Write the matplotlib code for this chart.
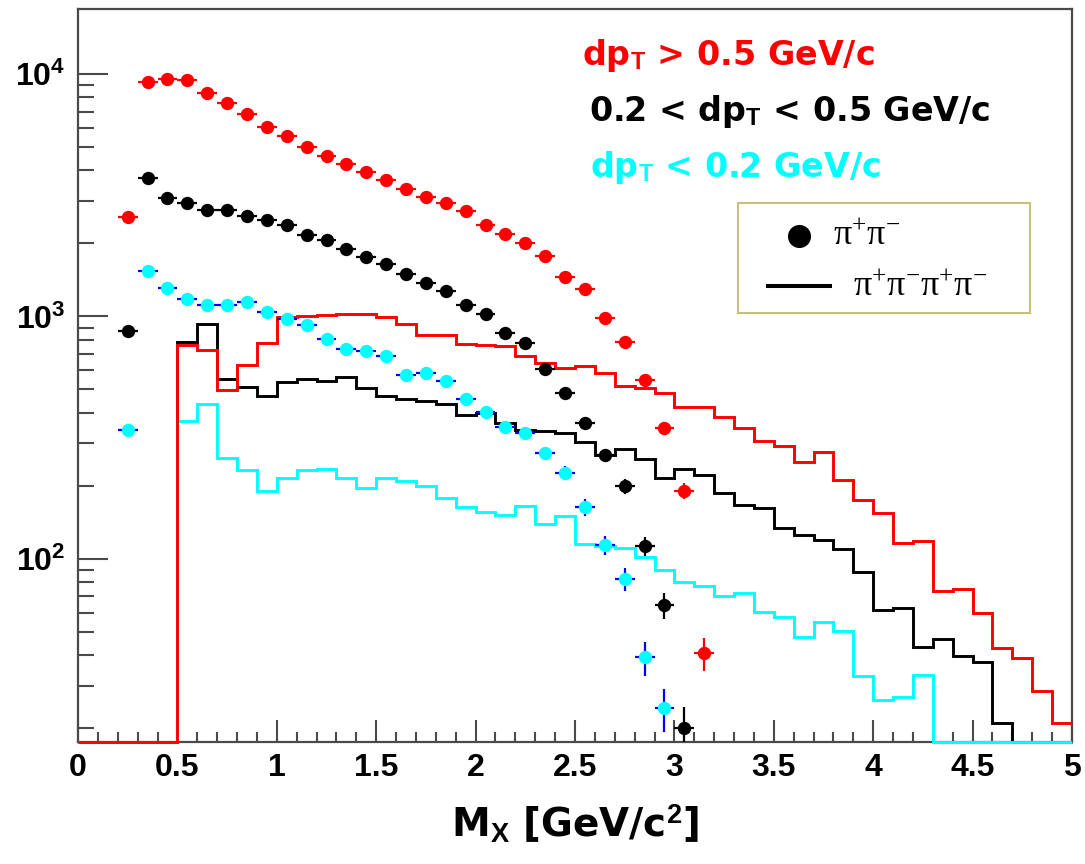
"""
M_X spectra for pi+pi- (points) and pi+pi-pi+pi- (histograms) in three dp_T bins
"""

import numpy as np
import matplotlib
matplotlib.use('Agg')
import matplotlib.pyplot as plt
from matplotlib.patches import Rectangle
from matplotlib.ticker import FixedLocator, FixedFormatter, LogLocator, NullFormatter, MultipleLocator

plt.rcParams['font.family'] = ['Liberation Sans', 'DejaVu Sans']
plt.rcParams['mathtext.fontset'] = 'custom'
plt.rcParams['mathtext.rm'] = 'Liberation Serif:weight=normal'
plt.rcParams['mathtext.it'] = 'Liberation Serif:style=italic:weight=normal'
plt.rcParams['mathtext.bf'] = 'Liberation Sans:weight=bold'

# 50 bins of 0.1 GeV/c^2 from 0 to 5
mass_edges = np.linspace(0.0, 5.0, 51)
mass_centers = 0.5 * (mass_edges[:-1] + mass_edges[1:])

# pi+pi- points, first point at 0.25
red_pts = [2560, 9300, 9530, 9450, 8380, 7570, 6810, 6040, 5540, 5010,
           4600, 4240, 3940, 3650, 3370, 3100, 2940, 2710, 2390, 2180,
           2010, 1775, 1450, 1300, 990, 783, 545, 348, 191, 41]
red_err = [50.6, 96.4, 97.6, 97.2, 91.5, 87.0, 82.5, 77.7, 74.4, 70.8,
           67.8, 65.1, 62.8, 60.4, 58.1, 55.7, 54.2, 52.1, 48.9, 46.7,
           44.8, 42.1, 38.1, 36.1, 31.5, 28.0, 23.3, 18.7, 13.8, 6.4]

black_pts = [869, 3730, 3090, 2950, 2740, 2740, 2590, 2510, 2390, 2160,
             2060, 1890, 1760, 1640, 1500, 1370, 1270, 1110, 1020, 857,
             777, 608, 482, 363, 267, 200, 113, 64.6, 20]
black_err = [29.5, 61.1, 55.6, 54.3, 52.3, 52.3, 50.9, 50.1, 48.9, 46.5,
             45.4, 43.5, 42.0, 40.5, 38.7, 37.0, 35.6, 33.3, 31.9, 29.3,
             27.9, 24.7, 22.0, 19.1, 16.3, 14.1, 10.6, 8.0, 4.5]

cyan_pts = [341, 1540, 1310, 1180, 1110, 1110, 1150, 1040, 978, 918,
            809, 735, 719, 684, 576, 583, 544, 455, 402, 349,
            330, 273, 226, 163, 114, 83, 39.3, 24.2]
cyan_err = [18.5, 39.2, 36.2, 34.4, 33.3, 33.3, 33.9, 32.2, 31.3, 30.3,
            28.4, 27.1, 26.8, 26.2, 24.0, 24.1, 23.3, 21.3, 20.0, 18.7,
            18.2, 16.5, 15.0, 12.8, 10.7, 9.1, 6.3, 4.9]

# pi+pi-pi+pi- histograms (50 bins)
red_hist = [0, 0, 0, 0, 0, 763, 725, 498, 631, 778,
            993, 1000, 1010, 1025, 1025, 993, 933, 840, 840, 772,
            765, 752, 688, 640, 612, 625, 583, 517, 505, 485,
            425, 422, 386, 346, 305, 291, 252, 275, 212, 175,
            154, 116, 118, 74, 75, 60, 43, 39, 28.4, 21]
black_hist = [0, 0, 0, 0, 0, 783, 927, 552, 510, 471,
              538, 552, 544, 561, 507, 471, 457, 446, 436, 392,
              399, 365, 340, 337, 330, 303, 268, 285, 258, 215,
              235, 222, 187, 167, 162, 134, 126, 120, 110, 88.7,
              61.6, 62.6, 43.5, 46.6, 39.8, 37.4, 21, 0, 0, 0]
cyan_hist = [0, 0, 0, 0, 0, 369, 436, 260, 233, 191,
             215, 232, 235, 215, 196, 215, 210, 200, 178, 163,
             156, 152, 166, 139, 151, 115, 113, 111, 102, 90,
             80, 77, 70, 72, 60.6, 57.8, 47.5, 54.8, 50.6, 33.0,
             26.2, 27.0, 33.2, 0, 0, 0, 0, 0, 0, 0]

x_ticks = [0, 0.5, 1, 1.5, 2, 2.5, 3, 3.5, 4, 4.5, 5]
x_tick_labels = ['0', '0.5', '1', '1.5', '2', '2.5', '3', '3.5', '4', '4.5', '5']
y_ticks = [1e2, 1e3, 1e4]
y_tick_labels = [r'$\mathbf{10^{2}}$', r'$\mathbf{10^{3}}$', r'$\mathbf{10^{4}}$']

y_min, y_max = 17.57, 18540

RED = '#ff0000'
CYAN = '#00ffff'
FRAME = '#4a4a4a'

fig = plt.figure(figsize=(10.85, 8.64), dpi=100)
ax = fig.add_axes([0.0719, 0.1412, 0.9161, 0.8484])
ax.set_yscale('log')
ax.set_xlim(0, 5)
ax.set_ylim(y_min, y_max)

# histograms (empty bins drawn along the axis floor like ROOT does)
for hist, color in [(black_hist, 'black'), (cyan_hist, CYAN), (red_hist, RED)]:
    ax.stairs(np.maximum(hist, y_min), mass_edges, baseline=None,
              color=color, linewidth=2.1, zorder=3, clip_on=False)

# points
for vals, errs, color, ecolor in [(red_pts, red_err, RED, RED),
                                  (black_pts, black_err, 'black', 'black'),
                                  (cyan_pts, cyan_err, CYAN, '#0000ff')]:
    xs = mass_centers[2:2 + len(vals)]
    ax.errorbar(xs, vals, xerr=0.05, yerr=errs, fmt='o', ms=9.6,
                mfc=color, mec=color, mew=0, ecolor=ecolor,
                elinewidth=1.6, capsize=0, zorder=4)

# frame and ticks
for s in ax.spines.values():
    s.set_color(FRAME)
    s.set_linewidth(1.6)

ax.xaxis.set_major_locator(FixedLocator(x_ticks))
ax.xaxis.set_major_formatter(FixedFormatter(x_tick_labels))
ax.xaxis.set_minor_locator(MultipleLocator(0.1))
ax.yaxis.set_major_locator(FixedLocator(y_ticks))
ax.yaxis.set_major_formatter(FixedFormatter(y_tick_labels))
ax.yaxis.set_minor_locator(LogLocator(base=10, subs=range(2, 10)))
ax.yaxis.set_minor_formatter(NullFormatter())

ax.tick_params(axis='x', which='major', direction='in', length=15.8, width=1.5,
               color=FRAME, pad=8, labelsize=23, top=False)
ax.tick_params(axis='x', which='minor', direction='in', length=7.2, width=1.5,
               color=FRAME, top=False)
ax.tick_params(axis='y', which='major', direction='in', length=21.6, width=1.5,
               color=FRAME, pad=9, labelsize=23, right=False)
ax.tick_params(axis='y', which='minor', direction='in', length=11.5, width=1.5,
               color=FRAME, right=False)
for lbl in ax.get_xticklabels() + ax.get_yticklabels():
    lbl.set_fontweight('bold')

ax.set_xlabel(r'M$_{\mathbf{X}}$ [GeV/c$^{\mathbf{2}}$]', fontsize=28,
              fontfamily='DejaVu Sans', fontweight='bold')
ax.xaxis.set_label_coords(0.5, -0.083)

# dp_T labels
txt = dict(transform=ax.transAxes, fontsize=24, fontfamily='DejaVu Sans',
           fontweight='bold', va='baseline', ha='left')
ax.text(0.507, 0.9236, r'dp$_{\mathbf{T}}$ > 0.5 GeV/c', color=RED, **txt)
ax.text(0.514, 0.8472, r'0.2 < dp$_{\mathbf{T}}$ < 0.5 GeV/c', color='black', **txt)
ax.text(0.515, 0.7708, r'dp$_{\mathbf{T}}$ < 0.2 GeV/c', color=CYAN, **txt)

# legend box
ax.add_patch(Rectangle((0.664, 0.5853), 0.294, 0.150, transform=ax.transAxes,
                       facecolor='white', edgecolor='#c8c07a', linewidth=1.5, zorder=5))
ax.plot([0.7257], [0.6903], 'o', color='black', ms=15.6, transform=ax.transAxes,
        zorder=6, clip_on=False)
ax.plot([0.6942, 0.7565], [0.6225, 0.6225], color='black', linewidth=2.9,
        transform=ax.transAxes, zorder=6, clip_on=False)
leg_txt = dict(transform=ax.transAxes, fontsize=26, fontweight='normal',
               va='baseline', ha='left', zorder=6)
ax.text(0.7596, 0.678, r'$\mathrm{\pi^{+}\pi^{-}}$', **leg_txt)
ax.text(0.7797, 0.6085, r'$\mathrm{\pi^{+}\pi^{-}\pi^{+}\pi^{-}}$', **leg_txt)

fig.savefig('out.png', dpi=100)
